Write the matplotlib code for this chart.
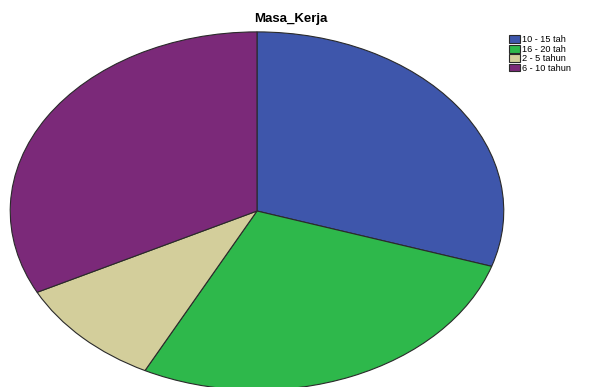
import matplotlib.pyplot as plt

labels = ["10 - 15 tah", "16 - 20 tah", "2 - 5 tahun", "6 - 10 tahun"]
counts = [12, 11, 4, 13]
colors = ["#3E56AB", "#2EB84B", "#D3CE9B", "#7B2979"]

W, H = 610, 387
fig = plt.figure(figsize=(W / 100, H / 100), dpi=100)

# the pie is stretched into an ellipse, so the axes box sets its shape
left, right, top, bottom = 9, 505, 31, 391
ax = fig.add_axes([left / W, (H - bottom) / H, (right - left) / W, (bottom - top) / H])
wedges, _ = ax.pie(counts, colors=colors, startangle=90, counterclock=False,
                   wedgeprops=dict(edgecolor="#2a2a2a", linewidth=0.8))
ax.set_aspect("auto")
ax.set_xlim(-1.005, 1.005)
ax.set_ylim(-1.005, 1.005)

fig.text(291 / W, 1 - 19 / H, "Masa_Kerja", ha="center", va="center",
         fontsize=9.5, fontweight="bold", family="Liberation Sans")

leg = fig.legend(wedges, labels, loc="upper left", bbox_to_anchor=(503 / W, 1 - 29 / H),
                 frameon=False, prop=dict(family="Liberation Sans", size=6.6),
                 handlelength=1.1, handleheight=0.9, handletextpad=0.3,
                 labelspacing=0.05, borderpad=0.2)

fig.savefig("out.png", dpi=100)
